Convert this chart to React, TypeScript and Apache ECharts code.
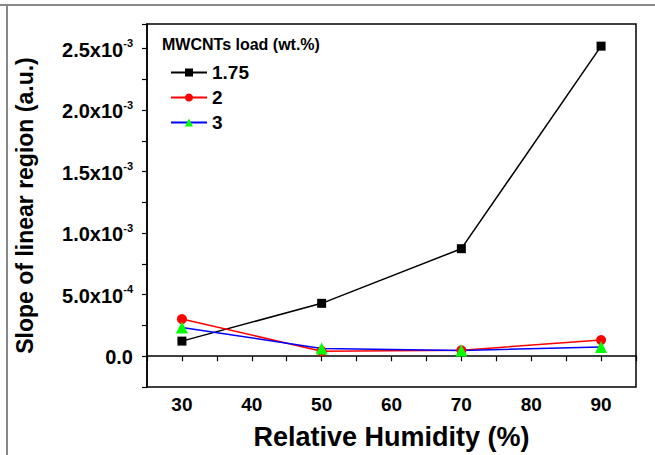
import React, { useEffect, useRef } from "react";
import * as echarts from "echarts";

const humidity = [30, 50, 70, 90];
const load175 = [0.123e-3, 0.43e-3, 0.874e-3, 2.52e-3];
const load2 = [0.302e-3, 0.041e-3, 0.049e-3, 0.131e-3];
const load3 = [0.234e-3, 0.063e-3, 0.046e-3, 0.076e-3];
const seriesNames = ["1.75", "2", "3"];
const yMajorLabels: Record<string, [string, string]> = {
  "0": ["0.0", ""],
  "0.5": ["5.0x10", "-4"],
  "1": ["1.0x10", "-3"],
  "1.5": ["1.5x10", "-3"],
  "2": ["2.0x10", "-3"],
  "2.5": ["2.5x10", "-3"],
};

const FONT = "'Liberation Sans', Arial, sans-serif";

export default function App() {
  const ref = useRef<HTMLDivElement>(null);
  useEffect(() => {
    if (!ref.current) return;
    const chart = echarts.init(ref.current, null, { renderer: "svg" });
    const pair = (ys: number[]) => humidity.map((x, i) => [x, ys[i]]);
    chart.setOption({
      animation: false,
      backgroundColor: "#fff",
      textStyle: { fontFamily: FONT },
      title: {
        text: "MWCNTs load (wt.%)",
        left: 162,
        top: 36,
        padding: 0,
        textStyle: { fontFamily: FONT, fontWeight: "bold", fontSize: 16, color: "#000" },
      },
      legend: {
        orient: "vertical",
        left: 170,
        top: 63,
        padding: 0,
        itemWidth: 36,
        itemHeight: 10,
        itemGap: 6,
        data: seriesNames,
        textStyle: { fontFamily: FONT, fontWeight: "bold", fontSize: 19, color: "#000" },
      },
      graphic: [
        { type: "line", shape: { x1: 0, y1: 5, x2: 655, y2: 5 }, style: { stroke: "#888", lineWidth: 2 } },
        { type: "line", shape: { x1: 7, y1: 4, x2: 7, y2: 455 }, style: { stroke: "#888", lineWidth: 2 } },
      ],
      grid: {
        left: 147,
        top: 24,
        right: 19,
        bottom: 68,
        show: true,
        borderColor: "#000",
        borderWidth: 1.5,
        backgroundColor: "transparent",
      },
      xAxis: {
        type: "value",
        min: 25,
        max: 95,
        interval: 5,
        name: "Relative Humidity (%)",
        nameLocation: "middle",
        nameGap: 36,
        nameTextStyle: { fontFamily: FONT, fontWeight: "bold", fontSize: 27, color: "#000" },
        axisLine: { show: true, lineStyle: { color: "#000", width: 1.5 } },
        axisTick: { show: true, length: 5, lineStyle: { color: "#000", width: 1.2 } },
        splitLine: { show: false },
        axisLabel: {
          margin: 8,
          fontFamily: FONT,
          fontWeight: "bold",
          fontSize: 19,
          color: "#000",
          formatter: (v: number) => (v % 10 === 0 && v >= 30 && v <= 90 ? String(v) : ""),
        },
      },
      yAxis: {
        type: "value",
        min: -0.25e-3,
        max: 2.7e-3,
        interval: 0.25e-3,
        name: "Slope of linear region (a.u.)",
        nameLocation: "middle",
        nameGap: 111,
        nameTextStyle: { fontFamily: FONT, fontWeight: "bold", fontSize: 23, color: "#000" },
        axisLine: { show: true, lineStyle: { color: "#000", width: 1.5 } },
        axisTick: { show: true, length: 5, lineStyle: { color: "#000", width: 1.2 } },
        splitLine: { show: false },
        axisLabel: {
          margin: 14,
          color: "#000",
          formatter: (v: number) => {
            const k = String(Math.round(v * 1e4) / 10);
            const lab = yMajorLabels[k];
            if (!lab) return "";
            return lab[1] ? `{m|${lab[0]}}{s|${lab[1]}}` : `{m|${lab[0]}}`;
          },
          rich: {
            m: { fontFamily: FONT, fontWeight: "bold", fontSize: 20, color: "#000", lineHeight: 22, verticalAlign: "bottom" },
            s: { fontFamily: FONT, fontWeight: "bold", fontSize: 11, color: "#000", lineHeight: 22, verticalAlign: "top", padding: [0, 0, 8, 0] },
          },
        },
      },
      series: [
        {
          name: seriesNames[0],
          type: "line",
          data: pair(load175),
          symbol: "rect",
          symbolSize: 9,
          itemStyle: { color: "#000" },
          lineStyle: { color: "#000", width: 1.5 },
        },
        {
          name: seriesNames[1],
          type: "line",
          data: pair(load2),
          symbol: "circle",
          symbolSize: 10,
          itemStyle: { color: "#ff0000" },
          lineStyle: { color: "#ff0000", width: 1.5 },
        },
        {
          name: seriesNames[2],
          type: "line",
          data: pair(load3),
          symbol: "triangle",
          symbolSize: 12,
          itemStyle: { color: "#00ff00" },
          lineStyle: { color: "#0000ff", width: 1.5 },
        },
      ],
    });
    return () => chart.dispose();
  }, []);
  return <div ref={ref} style={{ width: 655, height: 455, position: "absolute", left: 0, top: 0 }} />;
}
